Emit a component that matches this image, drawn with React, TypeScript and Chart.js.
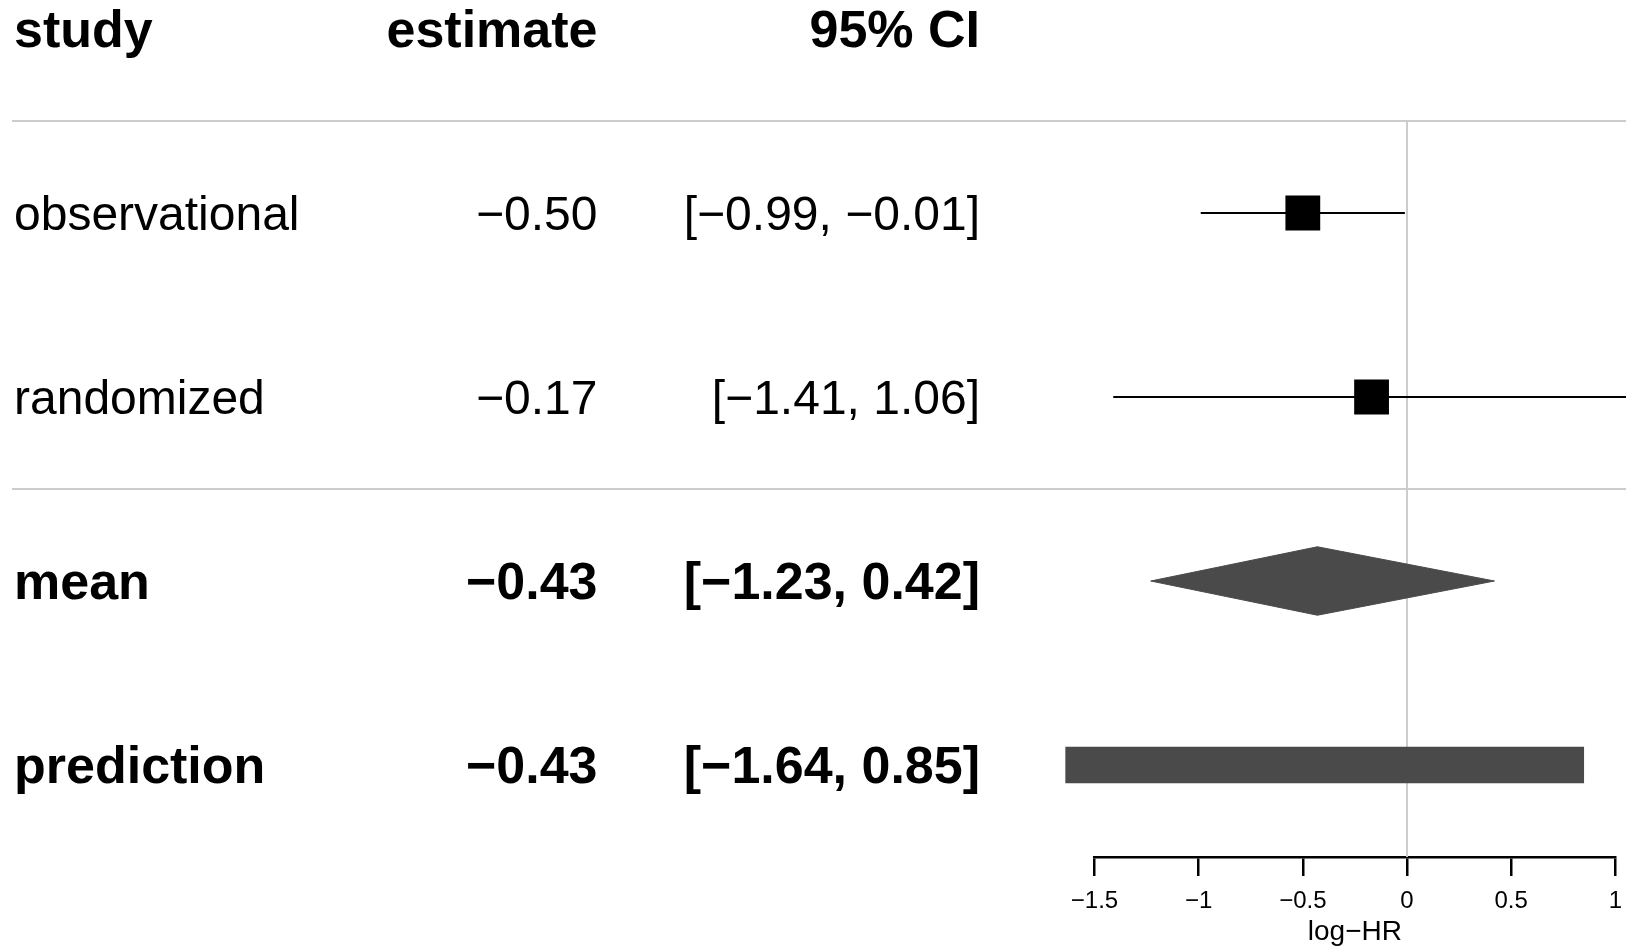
import React, { useEffect, useRef } from "react";
import { Chart, registerables } from "chart.js";

Chart.register(...registerables);

// ---- data ----
const headers = ["study", "estimate", "95% CI"];
const studies = ["observational", "randomized", "mean", "prediction"];
const estimates = [-0.5, -0.17, -0.43, -0.43];
const lowers = [-0.99, -1.41, -1.23, -1.64];
const uppers = [-0.01, 1.06, 0.42, 0.85];
const boldRows = [false, false, true, true];
const rowPositions = [4, 3, 2, 1];
const headerPosition = 5;
const separatorPositions = [4.5, 2.5];
const tickValues = [-1.5, -1, -0.5, 0, 0.5, 1];
const tickLabels = ["−1.5", "−1", "−0.5", "0", "0.5", "1"];
const axisTitle = "log−HR";

const FONT = "'Liberation Sans', Arial, Helvetica, sans-serif";
const fmt = (v: number) => v.toFixed(2).replace("-", "−");

const tablePlugin = {
  id: "forestTable",
  beforeDatasetsDraw(chart: any) {
    const { ctx } = chart;
    const ys = chart.scales.y;
    ctx.save();
    ctx.strokeStyle = "#cccccc";
    ctx.lineWidth = 2;
    separatorPositions.forEach((p) => {
      const y = ys.getPixelForValue(p);
      ctx.beginPath();
      ctx.moveTo(12, y);
      ctx.lineTo(chart.width, y);
      ctx.stroke();
    });
    ctx.restore();
  },
  afterDatasetsDraw(chart: any) {
    const { ctx } = chart;
    const ys = chart.scales.y;
    ctx.save();
    ctx.fillStyle = "#000000";
    ctx.textBaseline = "middle";
    const colStudy = 14;
    const colEst = 597.5;
    const colCI = 980;
    const dy = 4;
    // header
    const hy = ys.getPixelForValue(headerPosition) + dy;
    ctx.font = `bold 52px ${FONT}`;
    ctx.textAlign = "left";
    ctx.fillText(headers[0], colStudy, hy);
    ctx.textAlign = "right";
    ctx.fillText(headers[1], colEst, hy);
    ctx.fillText(headers[2], colCI, hy);
    // rows
    studies.forEach((s, i) => {
      const y = ys.getPixelForValue(rowPositions[i]) + dy;
      ctx.font = boldRows[i] ? `bold 52px ${FONT}` : `48px ${FONT}`;
      ctx.textAlign = "left";
      ctx.fillText(s, colStudy, y);
      ctx.textAlign = "right";
      ctx.fillText(fmt(estimates[i]), colEst, y);
      ctx.fillText(`[${fmt(lowers[i])}, ${fmt(uppers[i])}]`, colCI, y);
    });
    ctx.restore();
  },
};

export default function App() {
  const ref = useRef<HTMLCanvasElement | null>(null);

  useEffect(() => {
    document.body.style.margin = "0";
    if (!ref.current) return;

    const diamondHalf = 0.186;
    const datasets: any[] = [];

    // squares for individual studies
    datasets.push({
      type: "scatter",
      data: [0, 1].map((i) => ({ x: estimates[i], y: rowPositions[i] })),
      pointStyle: "rect",
      pointRadius: 24.6,
      pointBackgroundColor: "#000000",
      pointBorderWidth: 0,
      clip: false,
    });
    // CI whiskers
    [0, 1].forEach((i) => {
      datasets.push({
        type: "scatter",
        showLine: true,
        data: [
          { x: lowers[i], y: rowPositions[i] },
          { x: uppers[i], y: rowPositions[i] },
        ],
        borderColor: "#000000",
        borderWidth: 2,
        pointRadius: 0,
        clip: false,
      });
    });
    // diamond for the mean
    datasets.push({
      type: "scatter",
      showLine: true,
      data: [
        { x: lowers[2], y: rowPositions[2] },
        { x: estimates[2], y: rowPositions[2] + diamondHalf },
        { x: uppers[2], y: rowPositions[2] },
        { x: estimates[2], y: rowPositions[2] - diamondHalf },
        { x: lowers[2], y: rowPositions[2] },
      ],
      fill: "shape",
      backgroundColor: "#4a4a4a",
      borderColor: "#4a4a4a",
      borderWidth: 1,
      pointRadius: 0,
      clip: false,
    });
    // prediction interval bar
    datasets.push({
      type: "scatter",
      showLine: true,
      data: [
        { x: lowers[3], y: rowPositions[3] },
        { x: uppers[3], y: rowPositions[3] },
      ],
      borderColor: "#4a4a4a",
      borderWidth: 36.5,
      borderCapStyle: "butt",
      pointRadius: 0,
      clip: false,
    });
    // zero reference line (drawn first, underneath)
    datasets.push({
      type: "scatter",
      showLine: true,
      data: [
        { x: 0, y: 0.5 },
        { x: 0, y: separatorPositions[0] },
      ],
      borderColor: "#cccccc",
      borderWidth: 2,
      pointRadius: 0,
      clip: false,
    });

    const chart = new Chart(ref.current, {
      type: "scatter",
      data: { datasets },
      plugins: [tablePlugin],
      options: {
        animation: false,
        responsive: false,
        devicePixelRatio: 1,
        events: [],
        layout: {
          autoPadding: false,
          padding: { top: 121, left: 1094.5, right: 10.7, bottom: 0 },
        },
        plugins: {
          legend: { display: false },
          tooltip: { enabled: false },
        },
        scales: {
          x: {
            type: "linear",
            position: "bottom",
            min: -1.5,
            max: 1,
            afterFit: (s: any) => {
              s.height = 89;
              s.paddingLeft = 0;
              s.paddingRight = 0;
            },
            afterBuildTicks: (s: any) => {
              s.ticks = tickValues.map((v) => ({ value: v }));
            },
            ticks: {
              color: "#000000",
              font: { family: FONT, size: 24 },
              padding: 11,
              maxRotation: 0,
              autoSkip: false,
              callback: (v: any) => {
                const idx = tickValues.indexOf(Number(v));
                return idx >= 0 ? tickLabels[idx] : "";
              },
            },
            grid: {
              display: true,
              drawOnChartArea: false,
              drawTicks: true,
              tickLength: 19,
              color: "#000000",
              lineWidth: 2.5,
            },
            border: { display: true, color: "#000000", width: 2.5 },
            title: {
              display: true,
              text: axisTitle,
              color: "#000000",
              font: { family: FONT, size: 28, lineHeight: 1.0 },
              padding: { top: 0, bottom: 0 },
            },
          },
          y: {
            type: "linear",
            display: false,
            min: 0.5,
            max: 4.5,
          },
        },
      },
    });
    return () => chart.destroy();
  }, []);

  return (
    <canvas
      ref={ref}
      width={1626}
      height={946}
      style={{ display: "block", width: "1626px", height: "946px" }}
    />
  );
}
